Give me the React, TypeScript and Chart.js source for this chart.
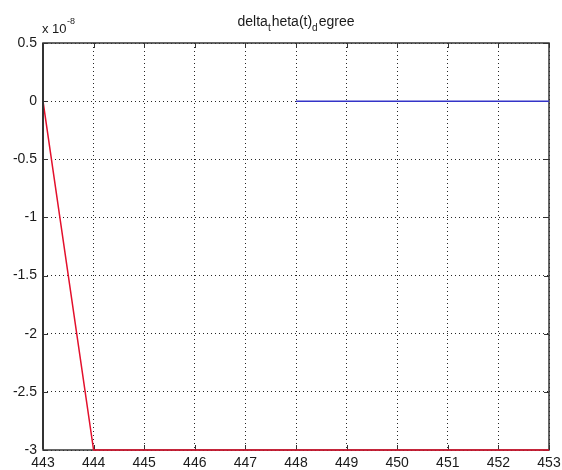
import React, { useEffect, useRef } from "react";
import { Chart, registerables } from "chart.js";

Chart.register(...registerables);

// Data (y values in units of 1e-8)
const xValues = [443, 444, 445, 446, 447, 448, 449, 450, 451, 452, 453];
const redSeries = [0, -3, -3, -3, -3, -3, -3, -3, -3, -3, -3];
const blueX = [448, 449, 450, 451, 452, 453];
const blueSeries = [0, 0, 0, 0, 0, 0];
const yExponent = "-8";
const titleParts: { text: string; sub: boolean }[] = [
  { text: "delta", sub: false },
  { text: "t", sub: true },
  { text: "heta(t)", sub: false },
  { text: "d", sub: true },
  { text: "egree", sub: false },
];

const FONT = "'Liberation Sans', Arial, Helvetica, sans-serif";
const TEXT_COLOR = "#1a1a1a";
const AXIS_COLOR = "#333333";

const boxPlugin = {
  id: "matlabBox",
  beforeDatasetsDraw(chart: any) {
    const { ctx, chartArea, scales } = chart;
    const { left, right, top, bottom } = chartArea;
    ctx.save();
    ctx.strokeStyle = AXIS_COLOR;
    ctx.lineWidth = 1;
    // inside ticks
    const tl = 5;
    scales.x.ticks.forEach((t: any) => {
      const px = Math.round(scales.x.getPixelForValue(t.value)) + 0.5;
      ctx.beginPath();
      ctx.moveTo(px, bottom);
      ctx.lineTo(px, bottom - tl);
      ctx.moveTo(px, top);
      ctx.lineTo(px, top + tl);
      ctx.stroke();
    });
    scales.y.ticks.forEach((t: any) => {
      const py = Math.round(scales.y.getPixelForValue(t.value)) + 0.5;
      ctx.beginPath();
      ctx.moveTo(left, py);
      ctx.lineTo(left + tl, py);
      ctx.moveTo(right, py);
      ctx.lineTo(right - tl, py);
      ctx.stroke();
    });
    // box
    ctx.lineWidth = 1.5;
    ctx.strokeRect(left, top, right - left, bottom - top);
    ctx.restore();
  },
  afterDatasetsDraw(chart: any) {
    const { ctx, chartArea } = chart;
    const { left, top, bottom } = chartArea;
    ctx.save();
    ctx.strokeStyle = AXIS_COLOR;
    ctx.lineWidth = 2;
    ctx.beginPath();
    ctx.moveTo(left, top);
    ctx.lineTo(left, bottom - 1);
    ctx.stroke();
    ctx.restore();
  },
  afterDraw(chart: any) {
    const { ctx, chartArea } = chart;
    ctx.save();
    ctx.fillStyle = TEXT_COLOR;
    ctx.textBaseline = "alphabetic";
    ctx.textAlign = "left";
    // title
    const mainFont = `14px ${FONT}`;
    const subFont = `10px ${FONT}`;
    let total = 0;
    const widths = titleParts.map((p) => {
      ctx.font = p.sub ? subFont : mainFont;
      const w = ctx.measureText(p.text).width + (p.sub ? 1 : 0);
      total += w;
      return w;
    });
    let x = (chartArea.left + chartArea.right) / 2 - total / 2;
    const baseY = 26;
    titleParts.forEach((p, i) => {
      ctx.font = p.sub ? subFont : mainFont;
      ctx.fillText(p.text, x, p.sub ? baseY + 5 : baseY);
      x += widths[i];
    });
    // exponent label
    ctx.font = `13px ${FONT}`;
    ctx.fillText("x 10", chartArea.left - 1, 33);
    const w = ctx.measureText("x 10").width;
    ctx.font = `9px ${FONT}`;
    ctx.fillText(yExponent, chartArea.left - 1 + w + 0.5, 24);
    ctx.restore();
  },
};

export default function App() {
  const ref = useRef<HTMLCanvasElement | null>(null);

  useEffect(() => {
    document.body.style.margin = "0";
    const canvas = ref.current;
    if (!canvas) return;
    const chart = new Chart(canvas, {
      type: "line",
      data: {
        datasets: [
          {
            label: "red",
            data: xValues.map((v, i) => ({ x: v, y: redSeries[i] })),
            borderColor: "#e3102c",
            borderWidth: 1.5,
            pointRadius: 0,
            tension: 0,
            fill: false,
            clip: 3,
          },
          {
            label: "blue",
            data: blueX.map((v, i) => ({ x: v, y: blueSeries[i] })),
            borderColor: "#3434c8",
            borderWidth: 1.5,
            pointRadius: 0,
            tension: 0,
            fill: false,
            clip: 3,
          },
        ],
      },
      options: {
        animation: false,
        responsive: false,
        devicePixelRatio: 1,
        layout: { padding: { left: 0, right: 13, top: 43, bottom: 0 } },
        plugins: {
          legend: { display: false },
          title: { display: false },
          tooltip: { enabled: false },
        },
        scales: {
          x: {
            type: "linear",
            min: 443,
            max: 453,
            afterFit: (s: any) => {
              s.height = 20;
              s.paddingLeft = 0;
              s.paddingRight = 0;
            },
            ticks: {
              stepSize: 1,
              padding: 5,
              color: TEXT_COLOR,
              font: { family: FONT, size: 14 },
              maxRotation: 0,
              autoSkip: false,
            },
            grid: {
              color: "rgba(0,0,0,0.85)",
              lineWidth: 1,
              drawTicks: false,
            },
            border: { display: false, dash: [1, 3] },
          },
          y: {
            type: "linear",
            min: -3,
            max: 0.5,
            afterFit: (s: any) => {
              s.width = 43;
              s.paddingTop = 0;
              s.paddingBottom = 0;
            },
            ticks: {
              stepSize: 0.5,
              padding: 6,
              color: TEXT_COLOR,
              font: { family: FONT, size: 14 },
              callback: (v: any) => String(Math.round(Number(v) * 10) / 10),
            },
            grid: {
              color: "rgba(0,0,0,0.85)",
              lineWidth: 1,
              drawTicks: false,
            },
            border: { display: false, dash: [1, 3] },
          },
        },
      },
      plugins: [boxPlugin],
    });
    return () => chart.destroy();
  }, []);

  return (
    <div style={{ width: 562, height: 470, background: "#fff" }}>
      <canvas ref={ref} width={562} height={470} style={{ display: "block" }} />
    </div>
  );
}
